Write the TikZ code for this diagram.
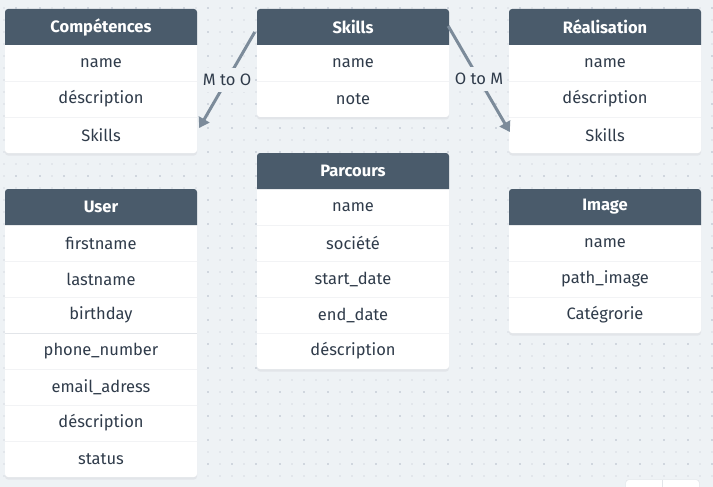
\documentclass[tikz,border=0pt]{standalone}
\usepackage{fontspec}
\setmainfont{Fira Sans}
\usetikzlibrary{arrows.meta}
\definecolor{bg}{HTML}{EEF2F5}
\definecolor{hdr}{HTML}{4A5B6B}
\definecolor{txt}{HTML}{2F3B4A}
\definecolor{arr}{HTML}{7C8B9A}
\definecolor{dotl}{HTML}{E2E6EB}
\definecolor{dotd}{HTML}{D0D6DE}
\definecolor{sepc}{HTML}{F2F3F5}
\definecolor{shad}{HTML}{E2E5E9}
\tikzset{
  hdrtext/.style={text=white, font=\fontsize{16.5}{19}\selectfont\bfseries, minimum width=192pt, minimum height=36pt, inner sep=0pt},
  rowtext/.style={text=txt, font=\fontsize{16.5}{19}\selectfont, minimum width=192pt, minimum height=36pt, inner sep=0pt},
  link/.style={draw=arr, line width=3pt, -{Triangle[width=12pt,length=10pt]}},
  linklabel/.style={fill=bg, text=txt, font=\fontsize{16.5}{19}\selectfont, inner sep=2pt, minimum height=24pt}
}
\newcommand\entity[6]{%
  \pgfmathsetmacro\bh{36*(#6+1)}
  \fill[shad, rounded corners=3pt] ({#2},{#3+1}) rectangle ++(192,\bh+1.5);
  \fill[white, rounded corners=3pt] ({#2},{#3}) rectangle ++(192,\bh);
  \fill[hdr] [rounded corners=3pt] ({#2},{#3+36}) -- ({#2},{#3}) -- ({#2+192},{#3}) [sharp corners] -- ({#2+192},{#3+36}) -- cycle;
  \node[hdrtext] (#1) at ({#2+96},{#3+18}) {#4};
  \foreach \r [count=\i] in {#5} {
    \node[rowtext] (#1-\i) at ({#2+96},{#3+18+36*\i}) {\r};
  }
  \foreach \i in {2,...,#6} {
    \draw[sepc, line width=0.8pt] ({#2},{#3+36*\i}) -- ++(192,0);
  }
}
\begin{document}
\begin{tikzpicture}[x=1pt,y=-1pt]
\useasboundingbox (0,0) rectangle (713,487);
\fill[bg] (0,0) rectangle (713,487);
\foreach \x in {4,16,...,712} {
  \foreach \y in {8,20,...,486} {
    \fill[dotl] (\x-0.9,\y-0.9) rectangle ++(1.8,1.8);
  }
}
\foreach \x in {16,40,...,712} {
  \foreach \y in {8,32,...,486} {
    \fill[dotd] (\x-0.9,\y-0.9) rectangle ++(1.8,1.8);
  }
}
\entity{comp}{5}{9}{Compétences}{name,déscription,Skills}{3}
\entity{sk}{257}{9}{Skills}{name,note}{2}
\entity{real}{509}{9}{Réalisation}{name,déscription,Skills}{3}
\entity{usr}{5}{189}{User}{firstname,lastname,birthday,phone\_number,email\_adress,déscription,status}{7}
\draw[shad, line width=1pt] (5,333.5) -- (197,333.5);
\entity{parc}{257}{153}{Parcours}{name,société,start\_date,end\_date,déscription}{5}
\entity{img}{509}{189}{Image}{name,path\_image,Catégrorie}{3}
% bottom-right controls
\fill[shad, rounded corners=3pt] (625.5,479.5) rectangle (699.5,500);
\fill[white, rounded corners=3pt] (626,480) rectangle (699,500);
\draw[shad, line width=1pt] (662,480) -- (662,487);
% links
\draw[link] ([shift={(-2,5)}]sk.west) -- node[linklabel]{M to O} ([shift={(2,-7)}]comp-3.east);
\draw[link] ([shift={(-1,-1)}]sk.east) -- node[linklabel]{O to M} ([shift={(1,-3)}]real-3.west);
\end{tikzpicture}
\end{document}
